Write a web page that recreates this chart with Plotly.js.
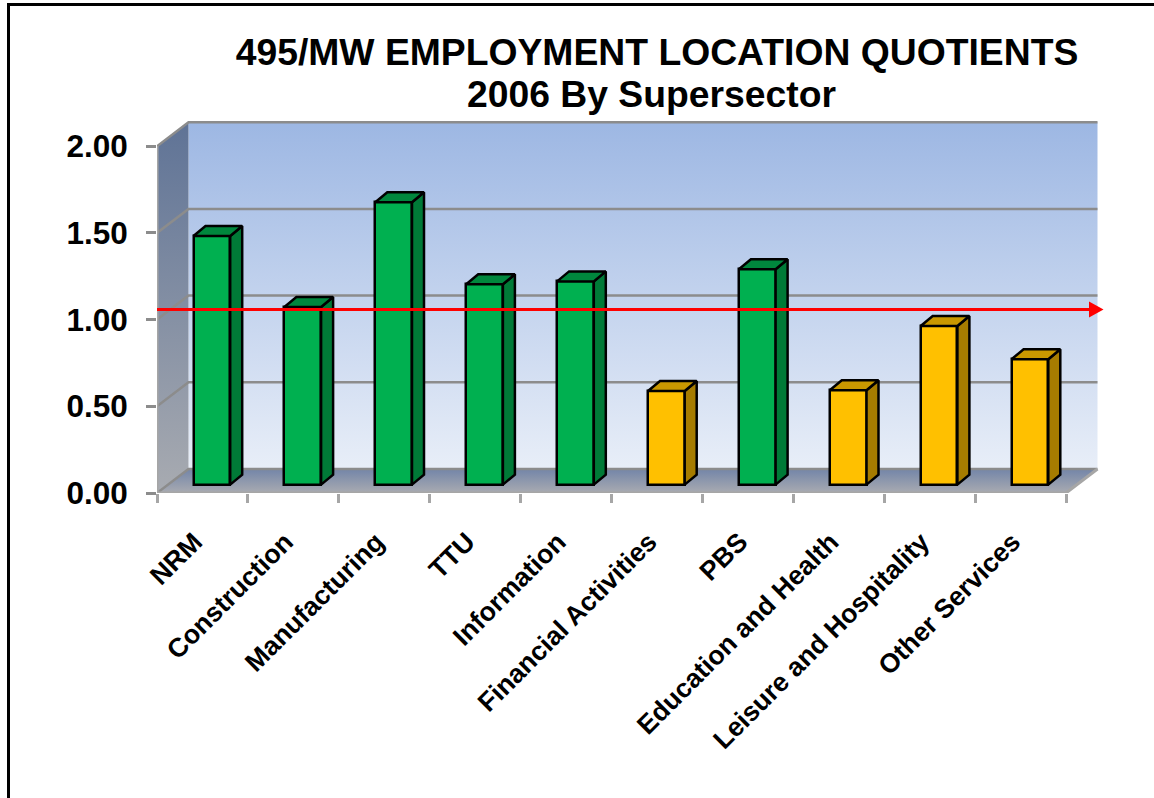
<!DOCTYPE html>
<html>
<head>
<meta charset="utf-8">
<script src="https://cdn.plot.ly/plotly-3.0.1.min.js"></script>
<style>html,body{margin:0;padding:0;background:#fff}#chart{width:1154px;height:798px}</style>
</head>
<body>
<div id="chart"></div>
<script>
const titleLine1 = "495/MW EMPLOYMENT LOCATION QUOTIENTS";
const titleLine2 = "2006 By Supersector";
const categories = ["NRM","Construction","Manufacturing","TTU","Information","Financial Activities","PBS","Education and Health","Leisure and Hospitality","Other Services"];
const quotients = [1.434,1.024,1.628,1.155,1.172,0.54,1.242,0.544,0.915,0.723];
const barGroups = ["high","high","high","high","high","low","high","low","low","low"];
const yTicks = [0,0.5,1,1.5,2];
const yTickLabels = ["0.00","0.50","1.00","1.50","2.00"];
const referenceLevel = 1.058;

// pixel scale of the picture
const pxX = 90.9, pxY = 173.4;
const ml = 157, plotW = 947, mt = 120, plotH = 373;
const xRange = [-0.5, -0.5 + plotW / pxX];
const yRange = [0, plotH / pxY];
const dx = p => p / pxX, dy = p => p / pxY;

const palette = {
  high: {front:"#00B050", side:"#007A37", top:"#00873D"},
  low:  {front:"#FFC000", side:"#A67C00", top:"#C99800"}
};
const GRID = "#8C8C8C";
const x0 = -0.5, x1 = 9.5, depthX = dx(31.5), depthY = dy(24);
const baseLift = dy(8.4), barShift = dx(9.4), barW = dx(36.7), sideX = dx(12), sideY = dy(10);

const traces = [];
const noHover = {hoverinfo:"skip", showlegend:false};
function wall(xs, ys, stops){
  traces.push(Object.assign({type:"scatter", mode:"none", x:xs, y:ys, fill:"toself",
    fillgradient:{type:"vertical", colorscale:stops}, xaxis:"x", yaxis:"y"}, noHover));
}
// back wall
wall([x0+depthX,x1+depthX,x1+depthX,x0+depthX,x0+depthX],
     [depthY,depthY,2+depthY,2+depthY,depthY],
     [[0,"#E8EEF8"],[1,"#9DB7E3"]]);
// left wall
wall([x0,x0+depthX,x0+depthX,x0,x0],[0,depthY,2+depthY,2,0],
     [[0,"#A8ABB1"],[1,"#5F7396"]]);
// floor
wall([x0,x1,x1+depthX,x0+depthX,x0],[0,0,depthY,depthY,0],
     [[0,"#A9ABB1"],[1,"#7385A8"]]);
// gridlines along the left wall and the back wall
yTicks.forEach(v=>{
  traces.push(Object.assign({type:"scatter", mode:"lines",
    x:[x0,x0+depthX,x1+depthX], y:[v,v+depthY,v+depthY],
    line:{color:GRID,width:2.5}, xaxis:"x", yaxis:"y"}, noHover));
});
// front edges of floor and wall
traces.push(Object.assign({type:"scatter", mode:"lines", x:[x0,x0,x1,x1+depthX], y:[2,0,0,depthY],
  line:{color:"#A6A6A6",width:3}, xaxis:"x", yaxis:"y"}, noHover));

// front faces
const barX = categories.map((c,i)=>i+barShift);
traces.push({type:"bar", x:barX, y:quotients, base:baseLift, width:barW,
  text:categories, hoverinfo:"text", textposition:"none", showlegend:false,
  marker:{color:barGroups.map(g=>palette[g].front), line:{color:"#000",width:2.5}},
  xaxis:"x2", yaxis:"y2"});
// side and top faces
quotients.forEach((v,i)=>{
  const L = barX[i]-barW/2, R = barX[i]+barW/2, T = baseLift+v, B = baseLift, c = palette[barGroups[i]];
  traces.push(Object.assign({type:"scatter", mode:"lines", fill:"toself", fillcolor:c.side,
    x:[R,R+sideX,R+sideX,R,R], y:[B,B+sideY,T+sideY,T,B],
    line:{color:"#000",width:2.5}, xaxis:"x2", yaxis:"y2"}, noHover));
  traces.push(Object.assign({type:"scatter", mode:"lines", fill:"toself", fillcolor:c.top,
    x:[L,L+sideX,R+sideX,R,L], y:[T,T+sideY,T+sideY,T,T],
    line:{color:"#000",width:2.5}, xaxis:"x2", yaxis:"y2"}, noHover));
});
// reference arrow
const arrowBase = x0 + (1089-ml)/pxX, arrowTip = x0 + (1103.5-ml)/pxX;
traces.push(Object.assign({type:"scatter", mode:"lines",
  x:[x0, arrowBase], y:[referenceLevel, referenceLevel],
  line:{color:"#FF0000",width:3}, xaxis:"x2", yaxis:"y2"}, noHover));
traces.push(Object.assign({type:"scatter", mode:"lines", fill:"toself", fillcolor:"#FF0000",
  x:[arrowBase,arrowTip,arrowBase,arrowBase],
  y:[referenceLevel+dy(8),referenceLevel,referenceLevel-dy(8),referenceLevel+dy(8)],
  line:{color:"#FF0000",width:0}, xaxis:"x2", yaxis:"y2"}, noHover));

const fontFam = '"Liberation Sans", Arial, sans-serif';
const titleFont = {family:fontFam, size:37.3, weight:"bold", color:"#000"};
const layout = {
  width:1154, height:798, autosize:false,
  paper_bgcolor:"#fff", plot_bgcolor:"rgba(0,0,0,0)",
  margin:{l:ml, r:1154-ml-plotW, t:mt, b:798-mt-plotH, pad:0},
  showlegend:false, bargap:0,
  title:{text:titleLine1, x:657/1154, xanchor:"center", y:1-52/798, yanchor:"middle", yref:"container", font:titleFont},
  annotations:[{text:titleLine2, showarrow:false, xref:"paper", yref:"paper",
    x:(651-ml)/plotW, xanchor:"center", y:1+(mt-94)/plotH, yanchor:"middle", font:titleFont}],
  xaxis:{range:xRange, tickmode:"array", tickvals:categories.map((c,i)=>i), ticktext:categories,
    tickangle:-45, ticks:"", showgrid:false, zeroline:false, showline:false, fixedrange:true,
    ticklabelstandoff:27, ticklabelshift:-8,
    tickfont:{family:fontFam, size:26.6, weight:"bold", color:"#000"}},
  yaxis:{range:yRange, tickmode:"array", tickvals:yTicks, ticktext:yTickLabels,
    ticks:"outside", ticklen:10, tickwidth:2.5, tickcolor:"#8C8C8C", showgrid:false, zeroline:false, showline:false, fixedrange:true,
    ticklabelstandoff:12,
    tickfont:{family:fontFam, size:31.5, weight:"bold", color:"#000"}},
  xaxis2:{range:xRange, overlaying:"x", anchor:"y2", side:"bottom", tickmode:"array",
    tickvals:categories.concat([""]).map((c,i)=>i-0.5), ticktext:categories.concat([""]).map(()=>""),
    ticks:"outside", ticklen:9, tickwidth:2.5, tickcolor:"#A6A6A6", showgrid:false, zeroline:false, showline:false, fixedrange:true},
  yaxis2:{range:yRange, overlaying:"y", anchor:"x2", showticklabels:false, ticks:"", showgrid:false, zeroline:false, showline:false, fixedrange:true},
  shapes:[{type:"rect", xref:"paper", yref:"paper", layer:"above",
    x0:(8.5-ml)/plotW, x1:(1170-ml)/plotW, y0:-(820-mt-plotH)/plotH, y1:1+(mt-4.5)/plotH,
    line:{color:"#000",width:3}, fillcolor:"rgba(0,0,0,0)"}]
};
Plotly.newPlot("chart", traces, layout, {displayModeBar:false});
</script>
</body>
</html>
